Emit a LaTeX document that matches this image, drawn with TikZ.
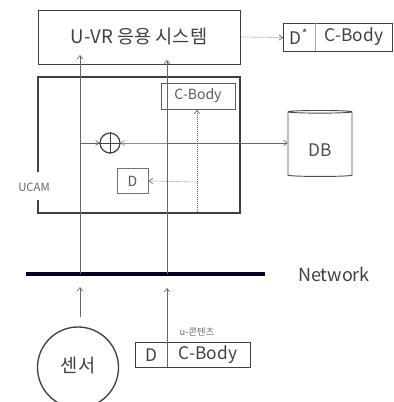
\documentclass[tikz,border=0pt]{standalone}
\usepackage{fontspec}
\setmainfont{Noto Sans CJK KR}
\usetikzlibrary{arrows.meta,shapes.geometric}
\begin{document}
\begin{tikzpicture}[x=0.75pt,y=-0.75pt,
  box/.style={draw=black!75,line width=1.1pt},
  thin/.style={draw=black!60,line width=0.5pt},
  arr/.style={thin,-{Straight Barb[length=2.5pt,width=4pt]}},
  darr/.style={arr,densely dotted},
  lbl/.style={inner sep=0pt,text=black!75}]
\useasboundingbox (0,0) rectangle (393,402);
\begin{scope}
\clip (0,0) rectangle (393,402);
% top system box
\node[box,minimum width=202*0.75pt,minimum height=54*0.75pt,anchor=north west] (sys) at (38,10) {};
\node[lbl,font=\fontsize{14}{16}\selectfont] (syst) at (139,37) {U-VR 응용 시스템};
% D* C-Body box
\node[box,line width=0.9pt,minimum width=109*0.75pt,minimum height=28*0.75pt,anchor=north west] (dstar) at (283,23) {};
\draw[thin,draw=black!35] (315,23) -- (315,51);
\node[lbl,font=\fontsize{13}{15}\selectfont] (dst) at (299,37) {D\textsuperscript{*}};
\node[lbl,font=\fontsize{13}{15}\selectfont] (cbt) at (354,37) {C-Body};
\draw[darr] (sys.east |- 0,37) -- (dstar.west);
% UCAM box
\coordinate (ua) at (38,172);
\coordinate (ub) at (38,200);
\draw[box] (ua) -- (38,77) -- (240,77) -- (240,213) -- (38,213) -- (ub);
\node[lbl,font=\fontsize{8.5}{10}\selectfont,text=black!60] (ucam) at (34,187) {UCAM};
% inner C-Body
\node[draw=black!65,line width=0.7pt,minimum width=74*0.75pt,minimum height=26*0.75pt,anchor=north west] (cb) at (161,83) {};
\node[lbl,font=\fontsize{10.5}{12}\selectfont,text=black!65] (cbl) at (198,96) {C-Body};
% D box
\node[draw=black!55,line width=0.6pt,minimum width=31*0.75pt,minimum height=25*0.75pt,anchor=north west] (dbox) at (117,168) {};
\node[lbl,font=\fontsize{10.5}{12}\selectfont,text=black!65] (dl) at (132.5,181) {D};
% circle plus
\node[circle,draw=black!75,line width=0.9pt,minimum size=20*0.75pt,inner sep=0pt] (op) at (110,143) {};
\draw[black!75,line width=0.6pt] (op.north) -- (op.south) (op.west) -- (op.east);
% DB
\node[cylinder,shape border rotate=90,draw=black!70,line width=0.7pt,aspect=0.3,minimum width=64*0.75pt,minimum height=66*0.75pt,anchor=north] (db) at (320,110) {};
\node[lbl,font=\fontsize{13}{15}\selectfont,text=black!70] (dbl) at (320,150) {DB};
% network
\draw[line width=3pt,draw=black!75!blue!60!black] (26,274) coordinate (n1) -- (265,274) coordinate (n2);
\node[lbl,font=\fontsize{13.5}{15}\selectfont] (net) at (334,274) {Network};
% vertical lines to system
\coordinate (v1) at (80,274);
\coordinate (v2) at (167,274);
\draw[arr] (v1) -- (80,55);
\draw[arr] (v2) -- (167,60);
% horizontal at circle
\coordinate (h1) at (80,143);
\coordinate (h2) at (167,143);
\draw[arr] (h1) -- (op.west);
\draw[arr,draw=black!45] (h2) -- (op.east);
\draw[arr] (h2) -- (db.west |- 0,143);
% dotted
\coordinate (d1) at (197,212);
\coordinate (d2) at (197,182);
\draw[darr] (d1) -- (cb.south -| 197,0);
\draw[darr] (d2) -- (dbox.east);
% sensor
\node[circle,draw=black!75,line width=1pt,minimum size=81*0.75pt,inner sep=0pt] (sen) at (78,367.5) {};
\node[lbl,font=\fontsize{14}{16}\selectfont] (senl) at (78,366) {센서};
\coordinate (s1) at (80,317);
\draw[arr] (s1) -- (80,287);
% u-content box
\node[box,line width=0.9pt,minimum width=115*0.75pt,minimum height=25*0.75pt,anchor=north west] (ub2) at (135,342) {};
\draw[thin] (167,342) -- (167,367);
\node[lbl,font=\fontsize{13}{15}\selectfont] (ud) at (151,355) {D};
\node[lbl,font=\fontsize{13}{15}\selectfont] (uc) at (208,355) {C-Body};
\node[lbl,font=\fontsize{7}{8}\selectfont,text=black!60] (uk) at (197,332) {u-콘텐츠};
\draw[arr] (ub2.north -| 167,0) -- (167,288);
\end{scope}
\end{tikzpicture}
\end{document}
